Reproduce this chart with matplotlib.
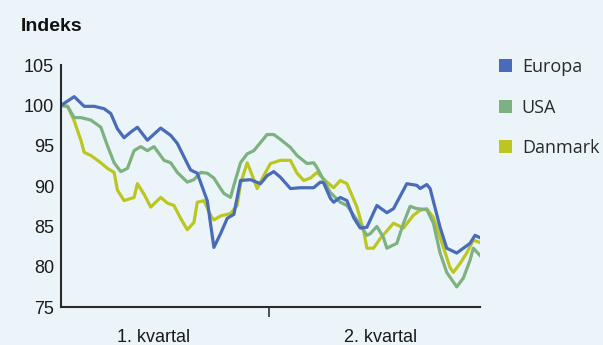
import matplotlib
matplotlib.use("Agg")
from matplotlib import pyplot as plt
from matplotlib.patches import Patch

# handelsdage, 2 kvartaler ~ 126 dage
europa_x = [0, 4, 7, 10, 13, 15, 17, 19, 21, 23, 26, 30, 33, 35, 38, 39, 41, 44,
            46, 48, 50, 52, 54, 57, 60, 62, 64, 66, 69, 72, 76, 78, 79, 81, 82,
            84, 86, 88, 90, 92, 95, 98, 100, 104, 107, 108, 110, 111, 114, 116,
            119, 121, 123, 124.5, 126]
europa_y = [100.0, 101.1, 99.9, 99.9, 99.6, 99.0, 97.1, 96.0, 96.7, 97.3, 95.7,
            97.2, 96.3, 95.3, 92.8, 92.0, 91.6, 88.2, 82.4, 84.1, 86.0, 86.5,
            90.7, 90.8, 90.3, 91.3, 91.8, 91.1, 89.7, 89.8, 89.8, 90.5, 90.4,
            88.5, 88.0, 88.6, 88.2, 86.1, 84.8, 84.9, 87.6, 86.7, 87.2, 90.3,
            90.1, 89.7, 90.2, 89.7, 84.9, 82.3, 81.7, 82.3, 82.9, 83.9, 83.6]

usa_x = [0, 2, 4, 6, 9, 12, 14, 16, 18, 20, 22, 24, 26, 28, 31, 33, 35, 38, 40,
         42, 44, 46, 48, 49, 51, 52, 54, 56, 58, 60, 62, 64, 66, 69, 71, 74, 76,
         77, 81, 84, 86, 89, 92, 93, 95, 97, 98, 101, 103, 105, 107, 110, 112,
         114, 116, 119, 121, 123, 124, 126]
usa_y = [100.0, 99.9, 98.5, 98.5, 98.2, 97.3, 95.0, 92.9, 91.8, 92.2, 94.4, 94.9,
         94.4, 94.9, 93.2, 92.9, 91.7, 90.5, 90.8, 91.7, 91.6, 91.0, 89.7, 89.1,
         88.6, 90.1, 92.9, 94.0, 94.4, 95.4, 96.4, 96.4, 95.8, 94.8, 93.8, 92.8,
         92.9, 92.3, 89.2, 88.0, 87.6, 85.8, 83.9, 84.1, 85.0, 83.6, 82.3, 82.9,
         85.4, 87.5, 87.2, 87.1, 85.4, 81.7, 79.3, 77.5, 78.6, 80.8, 82.3, 81.4]

danmark_x = [0, 2, 4, 6, 7, 9, 12, 14, 16, 17, 19, 22, 23, 25, 27, 29, 30, 32,
             34, 36, 38, 40, 41, 43, 45, 46, 48, 51, 53, 54, 56, 57, 59, 61, 63,
             66, 69, 71, 73, 75, 77, 80, 82, 84, 86, 89, 91, 92, 94, 96, 100,
             103, 106, 108, 110, 112, 115, 117, 118, 120, 122, 124, 126]
danmark_y = [100.0, 99.9, 98.1, 95.7, 94.2, 93.8, 92.9, 92.2, 91.7, 89.5, 88.2,
             88.6, 90.3, 89.0, 87.4, 88.2, 88.6, 87.9, 87.6, 86.0, 84.6, 85.5,
             88.0, 88.2, 86.4, 85.8, 86.3, 86.6, 87.6, 90.3, 92.9, 91.9, 89.7,
             91.3, 92.8, 93.2, 93.2, 91.6, 90.7, 91.0, 91.7, 90.5, 89.8, 90.7,
             90.3, 87.4, 84.5, 82.3, 82.3, 83.5, 85.4, 84.8, 86.4, 87.0, 87.2,
             86.1, 82.4, 79.9, 79.3, 80.4, 81.7, 83.3, 83.0]

serier = ["Europa", "USA", "Danmark"]
farver = ["#4A6BB8", "#7DB17F", "#BCC621"]
kvartaler = ["1. kvartal", "2. kvartal"]
kvartal_pos = [28, 96]
yticks = [75, 80, 85, 90, 95, 100, 105]

bg = "#EBF5F9"
plt.rcParams['font.family'] = ['Liberation Sans', 'DejaVu Sans']

fig = plt.figure(figsize=(6.03, 3.45), dpi=100, facecolor=bg)
ax = fig.add_axes([0.101, 0.110, 0.695, 0.701])
ax.set_facecolor(bg)

data = [(europa_x, europa_y), (usa_x, usa_y), (danmark_x, danmark_y)]
# Danmark bagerst, Europa forrest
for (x, y), clr in reversed(list(zip(data, farver))):
    ax.plot(x, y, color=clr, linewidth=2.3, solid_joinstyle='round')

ax.set_xlim(0, 126)
ax.set_ylim(75, 105)
ax.set_yticks(yticks)
ax.tick_params(axis='y', length=0, labelsize=13, pad=5, colors='#1a1a1a')

ax.set_xticks([62.5])
ax.set_xticklabels([''])
ax.tick_params(axis='x', which='major', length=7, width=1.2, color='#333333')
ax.set_xticks(kvartal_pos, minor=True)
ax.set_xticklabels(kvartaler, minor=True)
ax.tick_params(axis='x', which='minor', length=0, labelsize=13, pad=16,
               colors='#1a1a1a')

for s in ['top', 'right']:
    ax.spines[s].set_visible(False)
for s in ['left', 'bottom']:
    ax.spines[s].set_color('#2a2a2a')
    ax.spines[s].set_linewidth(1.5)

fig.text(0.035, 0.922, "Indeks", fontsize=14, fontweight='bold',
         color='#111111', ha='left', va='center')

handles = [Patch(facecolor=c, edgecolor='none', label=n)
           for n, c in zip(serier, farver)]
fig.legend(handles=handles, loc='upper left', bbox_to_anchor=(0.816, 0.853),
           frameon=False, handlelength=0.7, handleheight=0.7,
           handletextpad=0.55, labelspacing=1.25, borderaxespad=0,
           labelcolor='#2a2a2a', prop={'family': 'Open Sans', 'size': 13})

fig.savefig("out.png", dpi=100, facecolor=bg)
